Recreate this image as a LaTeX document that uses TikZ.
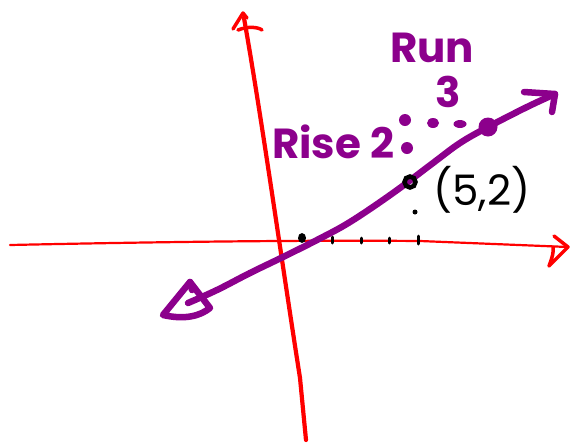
\documentclass[tikz,border=0pt]{standalone}
\usepackage{fontspec}
\setmainfont{Poppins}
\definecolor{pen}{RGB}{140,0,140}
\definecolor{axisred}{RGB}{255,0,0}
\begin{document}
\begin{tikzpicture}[x=1pt,y=-1pt,
  axisline/.style={draw=axisred,line cap=round,line join=round},
  penline/.style={draw=pen,line width=6.5pt,line cap=round,line join=round},
  pentext/.style={text=pen,font=\fontsize{42}{42}\selectfont\bfseries},
  inktext/.style={text=black,font=\fontsize{42}{42}\selectfont},
  tick/.style={draw=black,line width=3pt,line cap=round}]
\useasboundingbox (0,0) rectangle (571,445);
% vertical axis
\draw[axisline,line width=4.2pt] (244,18) .. controls (262,120) and (280,250) .. (300,378) -- (306,440);
\draw[axisline,line width=3.5pt] (233,29) -- (243,13) -- (247,18);
\draw[axisline,line width=3.5pt] (238,30) .. controls (248,26) and (258,27) .. (262,30);
% horizontal axis
\draw[axisline,line width=2.2pt] (10,245) .. controls (150,242) and (300,240) .. (420,241) -- (568,247);
\draw[axisline,line width=3.5pt] (554,236) -- (568,247) -- (549,266) .. controls (552,258) and (554,252) .. (553,247);
% ticks
\fill (302,238) ellipse (4pt and 5pt);
\draw[tick] (332,237) -- (332,243);
\draw[tick] (361,238) -- (361,243);
\draw[tick] (389,238) -- (389,243);
\draw[tick] (418,236) -- (418,244);
% purple line
\coordinate (lo) at (188,303);
\coordinate (hi) at (555,94);
\draw[penline] plot[smooth,tension=0.6] coordinates {(188,303) (217,290) (250,273) (283,257) (317,240) (350,222) (393,193) (433,163) (460,143) (488,127) (527,107) (555,94)};
\draw[penline] (524,92) -- (hi) -- (552,112);
\draw[penline] (190,282) -- (163,315) .. controls (185,320) and (200,316) .. (210,308) -- (190,282);
\draw[penline] (190,282) -- (192,290);
% points
\fill[pen] (488,127) circle (9.5pt);
\fill[pen] (405,120) circle (6pt);
\fill[pen] (433,123) ellipse (6pt and 5pt);
\fill[pen] (460,124) ellipse (6.5pt and 4pt);
\fill[pen] (407,148) circle (6pt);
\draw[black,line width=4.5pt] (410,182) circle (5.5pt);
\fill (415,212) circle (2.5pt);
% texts
\node[pentext,anchor=center] (run) at (432,48) {Run};
\node[pentext,anchor=center] (three) at (448,92) {3};
\node[pentext,anchor=center] (rise) at (333,142) {Rise 2};
\node[inktext,anchor=center] (pt) at (482,190) {(5,2)};
\end{tikzpicture}
\end{document}
